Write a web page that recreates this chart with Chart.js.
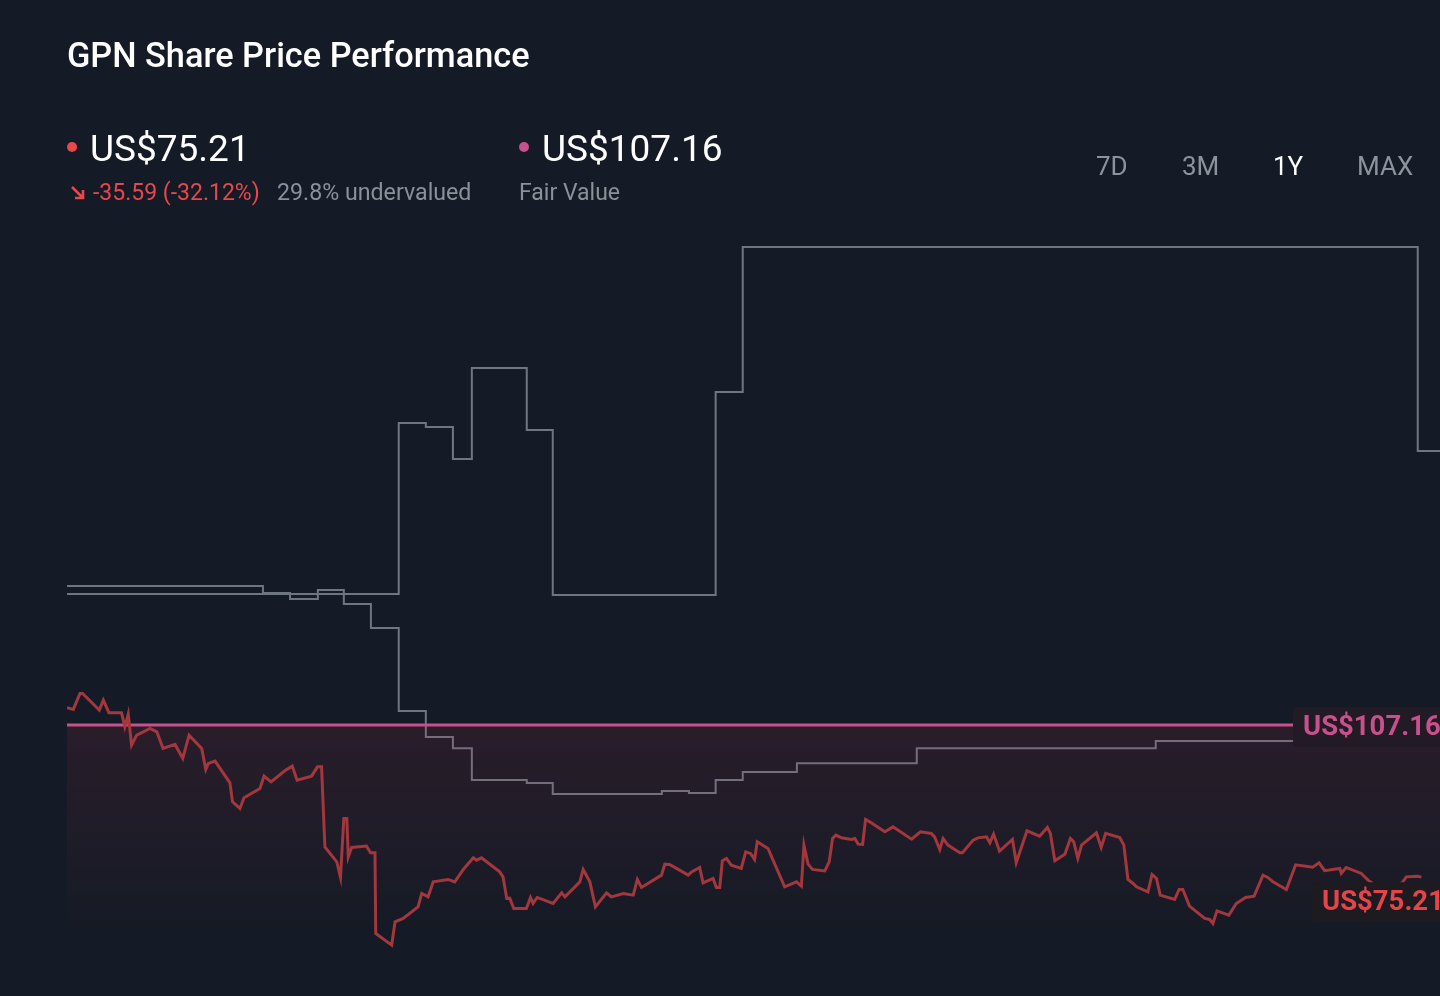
<!DOCTYPE html>
<html>
<head>
<meta charset="utf-8">
<script src="https://cdn.jsdelivr.net/npm/chart.js@4.4.1/dist/chart.umd.min.js"></script>
<style>
  html, body { margin: 0; padding: 0; background: #151b26; }
  body { width: 1440px; height: 996px; position: relative; overflow: hidden; font-family: Roboto, "Noto Sans", sans-serif; }
  #wrap { position: absolute; left: 0; top: 0; width: 1440px; height: 996px; }
  .t { position: absolute; line-height: 1; white-space: nowrap; }
  .dot { position: absolute; width: 10px; height: 10px; border-radius: 50%; }
</style>
</head>
<body>
<div id="wrap"><canvas id="priceChart"></canvas></div>

<div class="t" style="left:67px;top:38px;font-size:34.3px;font-weight:500;color:#ffffff;">GPN Share Price Performance</div>

<span class="dot" style="left:67px;top:142px;background:#e8474c;"></span>
<div class="t" style="left:90px;top:130px;font-size:37px;color:#ffffff;">US$75.21</div>
<svg style="position:absolute;left:70px;top:185px;" width="16" height="16" viewBox="0 0 16 16">
  <path d="M2 2 L13 13 M13 5 L13 13 L5 13" stroke="#e8474c" stroke-width="2.6" fill="none"/>
</svg>
<div class="t" style="left:93px;top:181px;font-size:23px;color:#e8474c;">-35.59 (-32.12%)</div>
<div class="t" style="left:277px;top:181px;font-size:23.2px;color:#8b9099;">29.8% undervalued</div>

<span class="dot" style="left:519px;top:142px;background:#c8508c;"></span>
<div class="t" style="left:542px;top:130px;font-size:37px;color:#ffffff;">US$107.16</div>
<div class="t" style="left:519px;top:181px;font-size:23px;color:#8b9099;">Fair Value</div>

<div class="t" style="left:1096px;top:153px;font-size:26px;color:#8d939c;">7D</div>
<div class="t" style="left:1182px;top:153px;font-size:26px;color:#8d939c;">3M</div>
<div class="t" style="left:1273px;top:153px;font-size:26px;color:#ffffff;">1Y</div>
<div class="t" style="left:1357px;top:153px;font-size:26px;color:#8d939c;">MAX</div>

<script>
// share price, days since start of the 1Y window
const priceDays = [0,1.7,3.5,4.2,8.7,9.8,11.3,14.7,15.6,16.5,
  17.4,18.8,22.4,24.2,25.9,29.1,31.2,32.9,36.3,37.4,
  38.1,39.9,43.9,44.6,46.6,47.7,52.0,53.1,55.0,58.7,
  60.7,62.0,65.9,67.5,68.6,69.5,72.7,73.7,74.6,75.4,
  75.8,76.7,80.7,81.8,83.0,83.2,87.5,88.4,90.6,94.6,
  95.6,97.3,98.7,102.7,104.5,106.8,109.5,110.4,111.7,116.6,
  117.5,118.5,119.3,120.4,123.8,124.9,125.6,126.7,131.0,133.3,
  134.2,138.2,139.1,140.9,142.4,145.4,146.7,149.9,152.6,153.7,
  154.8,160.2,161.1,162.4,167.4,168.3,170.5,171.4,174.1,175.0,
  175.9,176.6,177.7,179.0,181.7,182.9,184.2,185.3,186.0,188.9,
  193.4,196.6,197.9,198.6,199.7,200.9,204.2,205.4,206.3,207.2,
  208.7,211.4,212.3,213.2,214.4,215.2,216.3,220.4,222.6,227.6,
  230.0,232.9,233.8,235.2,236.1,237.4,240.6,241.3,244.2,245.5,
  247.8,248.7,249.7,251.3,254.8,255.8,258.7,262.1,264.2,265.0,
  266.2,268.9,270.4,271.3,272.4,273.4,277.4,278.7,279.9,283.7,
  284.8,285.9,287.3,288.2,291.3,292.4,293.6,294.6,298.5,299.7,
  300.7,302.5,306.6,307.9,308.8,309.9,313.1,315.1,317.6,319.9,
  322.3,323.6,325.0,328.6,331.1,335.7,337.4,338.9,343.0,343.4,
  344.7,348.8,350.6,353.7,357.8,360.0,360.9,364.0,365.0];
const priceValues = [110.80,110.46,113.82,113.82,110.31,112.42,109.75,109.75,106.80,109.47,
  102.96,105.06,106.47,105.75,102.26,103.10,100.16,105.06,102.26,97.85,
  99.11,99.59,95.03,91.04,89.65,91.88,93.85,96.44,95.24,97.55,
  98.54,95.60,96.44,98.39,98.39,81.58,78.42,75.15,87.55,87.55,
  79.48,81.45,81.73,80.32,80.32,63.37,60.92,65.81,66.53,68.97,
  71.78,71.07,74.22,74.73,74.22,76.83,79.27,78.78,79.27,76.32,
  75.27,70.73,70.79,68.63,68.63,70.94,69.68,70.94,69.68,71.91,
  71.07,74.22,76.83,74.22,68.97,71.91,71.07,71.78,71.43,74.73,
  73.04,75.63,77.94,77.88,75.63,76.32,77.25,74.01,74.94,73.04,
  73.04,78.64,79.14,77.73,77.04,80.53,80.19,78.93,82.63,81.24,
  73.17,74.22,73.32,81.94,77.94,76.83,76.53,78.42,83.34,84.04,
  83.47,83.13,83.34,82.15,82.08,87.34,86.83,84.73,85.78,83.20,
  84.73,84.40,83.68,81.03,83.34,81.94,80.32,80.32,82.99,83.47,
  83.68,82.42,84.25,80.67,83.13,78.22,84.94,83.83,85.66,84.40,
  78.64,80.04,83.34,82.63,79.14,81.94,84.52,81.45,84.40,83.55,
  81.94,74.73,73.88,73.17,72.12,75.78,74.94,71.43,70.52,72.62,
  72.62,69.11,66.53,66.32,65.48,68.13,67.22,69.68,70.94,71.22,
  75.63,75.15,74.22,72.62,77.80,77.31,78.22,76.58,77.04,75.99,
  77.25,75.99,74.58,72.90,72.50,74.22,75.27,75.41,75.21];

// the two grey step lines
const lowDays = [0,52.8,60.1,67.6,74.6,81.9,89.4,96.7,104.0,109.1,123.9,130.9,160.3,167.6,174.8,182.1,196.7,229.0,293.4,370];
const lowValues = [136.38,134.91,133.65,135.54,132.60,127.55,110.10,104.64,102.32,95.60,94.97,92.66,93.29,92.87,95.60,97.28,99.17,102.32,103.80,103.80];
const highDays = [0,89.4,96.7,104.0,109.1,123.9,130.9,174.8,182.1,364.0,370];
const highValues = [134.70,170.65,169.80,163.08,182.21,169.17,134.49,177.16,207.64,164.76,164.76];

const fairValue = 107.16;
const lastPrice = 75.21;
const fvDays = [0, 370];
const fvValues = [fairValue, fairValue];

const xRange = [0, 370];
const yRange = [57.8, 211.2];

const pts = (xs, ys) => xs.map((x, i) => ({ x: x, y: ys[i] }));

// value tags at the right edge
const tagPlugin = {
  id: 'tags',
  afterDatasetsDraw(chart) {
    const c = chart.ctx;
    const y = chart.scales.y;
    const right = chart.chartArea.right;
    const tags = [
      { v: fairValue, dy: 2, bg: '#221a25', color: '#c8508c', text: 'US$' + fairValue.toFixed(2), left: right - 147 },
      { v: lastPrice, dy: 25, bg: '#1d1a20', color: '#e5454a', text: 'US$' + lastPrice.toFixed(2), left: right - 128 }
    ];
    c.save();
    tags.forEach(t => {
      const cy = y.getPixelForValue(t.v) + t.dy;
      c.fillStyle = t.bg;
      c.beginPath();
      c.roundRect(t.left, cy - 20, right - t.left + 10, 40, 4);
      c.fill();
      c.fillStyle = t.color;
      c.font = 'bold 27.5px Roboto';
      c.textBaseline = 'middle';
      c.fillText(t.text, t.left + 10, cy + 1);
    });
    c.restore();
  }
};

const ctxPrice = document.getElementById('priceChart').getContext('2d');
const priceChart = new Chart(ctxPrice, {
  type: 'line',
  data: {
    datasets: [
      {
        label: 'Share price',
        data: pts(priceDays, priceValues),
        borderColor: '#a2373d',
        borderWidth: 3,
        pointRadius: 0,
        fill: false,
        order: 0
      },
      {
        label: 'Fair value',
        data: pts(fvDays, fvValues),
        borderColor: '#c8508c',
        borderWidth: 3,
        pointRadius: 0,
        fill: 'start',
        backgroundColor: (ctx) => {
          const chart = ctx.chart;
          if (!chart.chartArea) return 'transparent';
          const y0 = chart.scales.y.getPixelForValue(fairValue);
          const g = chart.ctx.createLinearGradient(0, y0, 0, y0 + 210);
          g.addColorStop(0, 'rgba(170,45,70,0.14)');
          g.addColorStop(1, 'rgba(170,45,70,0)');
          return g;
        },
        order: 1
      },
      {
        label: 'Low',
        data: pts(lowDays, lowValues),
        borderColor: '#6e7682',
        borderWidth: 2,
        pointRadius: 0,
        stepped: true,
        fill: false,
        order: 2
      },
      {
        label: 'High',
        data: pts(highDays, highValues),
        borderColor: '#6e7682',
        borderWidth: 2,
        pointRadius: 0,
        stepped: true,
        fill: false,
        order: 2
      }
    ]
  },
  options: {
    responsive: true,
    maintainAspectRatio: false,
    animation: false,
    layout: { padding: { left: 67, right: 0, top: 230, bottom: 36 } },
    plugins: { legend: { display: false }, tooltip: { enabled: false } },
    scales: {
      x: { type: 'linear', min: xRange[0], max: xRange[1], display: false },
      y: { min: yRange[0], max: yRange[1], display: false }
    }
  },
  plugins: [tagPlugin]
});
</script>
</body>
</html>
